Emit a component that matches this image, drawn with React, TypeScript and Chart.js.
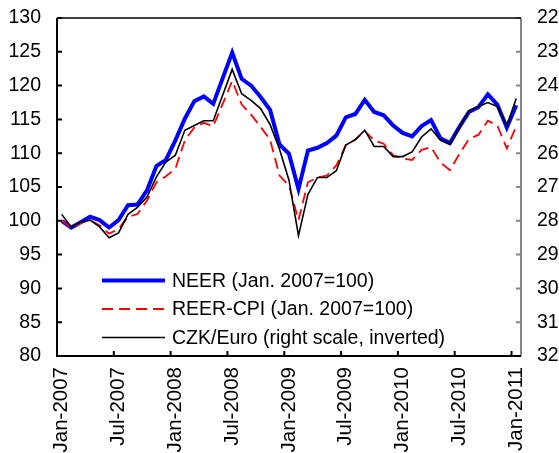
import React, { useEffect, useRef } from "react";
import { Chart, registerables } from "chart.js";

Chart.register(...registerables);

const months = [
  "Jan-2007", "Feb-2007", "Mar-2007", "Apr-2007", "May-2007", "Jun-2007",
  "Jul-2007", "Aug-2007", "Sep-2007", "Oct-2007", "Nov-2007", "Dec-2007",
  "Jan-2008", "Feb-2008", "Mar-2008", "Apr-2008", "May-2008", "Jun-2008",
  "Jul-2008", "Aug-2008", "Sep-2008", "Oct-2008", "Nov-2008", "Dec-2008",
  "Jan-2009", "Feb-2009", "Mar-2009", "Apr-2009", "May-2009", "Jun-2009",
  "Jul-2009", "Aug-2009", "Sep-2009", "Oct-2009", "Nov-2009", "Dec-2009",
  "Jan-2010", "Feb-2010", "Mar-2010", "Apr-2010", "May-2010", "Jun-2010",
  "Jul-2010", "Aug-2010", "Sep-2010", "Oct-2010", "Nov-2010", "Dec-2010",
  "Jan-2011",
];

const xTickLabels = [
  "Jan-2007", "Jul-2007", "Jan-2008", "Jul-2008", "Jan-2009",
  "Jul-2009", "Jan-2010", "Jul-2010", "Jan-2011",
];

const neerValues = [
  100.0, 99.0, 99.8, 100.6, 100.1, 99.0, 100.1, 102.3, 102.4, 104.5, 108.1, 109.0,
  111.9, 115.1, 117.7, 118.4, 117.3, 121.1, 124.9, 121.0, 120.0, 118.3, 116.4, 111.3,
  109.9, 104.7, 110.4, 110.8, 111.5, 112.6, 115.3, 115.8, 117.9, 116.1, 115.6, 114.1,
  113.0, 112.5, 114.0, 114.9, 112.2, 111.5, 113.9, 116.1, 116.8, 118.7, 117.2, 113.8,
  117.1,
];

const reerCpiValues = [
  100.0, 99.0, 99.7, 100.1, 99.3, 98.1, 98.8, 100.6, 101.0, 103.0, 105.7, 106.6,
  107.7, 111.9, 113.8, 114.5, 114.0, 117.3, 120.7, 117.2, 115.7, 113.9, 112.0, 106.7,
  105.2, 100.1, 105.7, 106.4, 106.7, 108.2, 111.2, 112.0, 113.3, 111.9, 111.4, 109.7,
  109.2, 109.0, 110.5, 110.9, 108.6, 107.5, 109.9, 112.1, 112.7, 114.8, 114.1, 110.7,
  114.0,
];

const czkEuroValues = [
  27.81, 28.18, 28.04, 27.98, 28.18, 28.5, 28.36, 27.81, 27.6, 27.3, 26.7, 26.26,
  26.06, 25.32, 25.18, 25.04, 25.04, 24.28, 23.52, 24.24, 24.44, 24.68, 25.15, 25.88,
  26.8, 28.44, 27.22, 26.72, 26.72, 26.52, 25.76, 25.6, 25.32, 25.8, 25.8, 26.1,
  26.1, 25.96, 25.52, 25.28, 25.62, 25.74, 25.24, 24.74, 24.62, 24.5, 24.62, 25.18,
  24.38,
];

const leftAxisRange = [80, 130];
const rightAxisRange = [22, 32];

const seriesLabels = [
  "NEER (Jan. 2007=100)",
  "REER-CPI (Jan. 2007=100)",
  "CZK/Euro (right scale, inverted)",
];

const FONT = "'Liberation Sans', Arial, Helvetica, sans-serif";

const frameTicksPlugin = {
  id: "frameTicks",
  beforeDatasetsDraw(chart: any) {
    const { ctx, chartArea, scales } = chart;
    const { left, right, top, bottom } = chartArea;
    ctx.save();
    ctx.setLineDash([]);
    // right axis (grey)
    ctx.strokeStyle = "#878787";
    ctx.lineWidth = 2;
    ctx.beginPath();
    ctx.moveTo(right, top);
    ctx.lineTo(right, bottom);
    scales.y1.ticks.forEach((t: any) => {
      const y = scales.y1.getPixelForValue(t.value);
      ctx.moveTo(right, y);
      ctx.lineTo(right - 5, y);
    });
    ctx.stroke();
    // top border
    ctx.strokeStyle = "#000";
    ctx.lineWidth = 1.5;
    ctx.beginPath();
    ctx.moveTo(left, top);
    ctx.lineTo(right, top);
    ctx.stroke();
    // left + bottom axes
    ctx.lineWidth = 2;
    ctx.beginPath();
    ctx.moveTo(left, top);
    ctx.lineTo(left, bottom);
    ctx.lineTo(right, bottom);
    scales.y.ticks.forEach((t: any) => {
      const y = scales.y.getPixelForValue(t.value);
      ctx.moveTo(left, y);
      ctx.lineTo(left + 5, y);
    });
    months.forEach((m, i) => {
      if (xTickLabels.includes(m)) {
        const x = scales.x.getPixelForValue(i - 0.5);
        ctx.moveTo(x, bottom);
        ctx.lineTo(x, bottom - 5);
      }
    });
    ctx.stroke();
    ctx.restore();
  },
};

const innerLegendPlugin = {
  id: "innerLegend",
  afterDatasetsDraw(chart: any) {
    const { ctx, chartArea } = chart;
    const { left, bottom } = chartArea;
    ctx.save();
    chart.data.datasets.forEach((ds: any, k: number) => {
      const y = bottom - 75.5 + k * 28.5;
      ctx.strokeStyle = ds.borderColor;
      ctx.lineWidth = ds.borderWidth;
      ctx.setLineDash(ds.borderDash || []);
      ctx.beginPath();
      ctx.moveTo(left + 45, y);
      ctx.lineTo(left + 108, y);
      ctx.stroke();
      ctx.setLineDash([]);
      ctx.fillStyle = "#000";
      ctx.font = `19.5px ${FONT}`;
      ctx.textBaseline = "middle";
      ctx.textAlign = "left";
      ctx.fillText(ds.label, left + 115, y + 1);
    });
    ctx.restore();
  },
};

const noVerticalPadding = (s: any) => {
  s.paddingTop = 0;
  s.paddingBottom = 0;
};

export default function App() {
  const canvasRef = useRef<HTMLCanvasElement | null>(null);

  useEffect(() => {
    if (!canvasRef.current) return;
    const chart = new Chart(canvasRef.current, {
      type: "line",
      data: {
        labels: months,
        datasets: [
          {
            label: seriesLabels[0],
            data: neerValues,
            borderColor: "#0000FF",
            borderWidth: 4,
            pointRadius: 0,
            tension: 0,
            yAxisID: "y",
            order: 3,
          },
          {
            label: seriesLabels[1],
            data: reerCpiValues,
            borderColor: "#FF0000",
            borderWidth: 1.8,
            borderDash: [11, 6],
            pointRadius: 0,
            tension: 0,
            yAxisID: "y",
            order: 2,
          },
          {
            label: seriesLabels[2],
            data: czkEuroValues,
            borderColor: "#000000",
            borderWidth: 1.6,
            pointRadius: 0,
            tension: 0,
            yAxisID: "y1",
            order: 1,
          },
        ],
      },
      options: {
        responsive: false,
        animation: false,
        layout: { padding: { top: 18, left: 0, right: 0, bottom: 0 } },
        plugins: {
          legend: { display: false },
          tooltip: { enabled: false },
          title: { display: false },
        },
        scales: {
          x: {
            type: "category",
            offset: true,
            grid: { display: false, drawTicks: false },
            border: { display: false },
            ticks: {
              autoSkip: false,
              maxRotation: 90,
              minRotation: 90,
              padding: 11,
              color: "#000",
              font: { family: FONT, size: 20.5 },
              callback: (_v: any, idx: number) =>
                xTickLabels.includes(months[idx]) ? months[idx] : "",
            },
            afterFit: (s: any) => {
              s.height = 97;
            },
          },
          y: {
            position: "left",
            min: leftAxisRange[0],
            max: leftAxisRange[1],
            grid: { display: false, drawTicks: false },
            border: { display: false },
            ticks: {
              stepSize: 5,
              padding: 16,
              color: "#000",
              font: { family: FONT, size: 19.5 },
            },
            afterFit: (s: any) => {
              s.width = 57;
              noVerticalPadding(s);
            },
          },
          y1: {
            position: "right",
            reverse: true,
            min: rightAxisRange[0],
            max: rightAxisRange[1],
            grid: { display: false, drawTicks: false },
            border: { display: false },
            ticks: {
              stepSize: 1,
              padding: 16,
              color: "#000",
              font: { family: FONT, size: 19.5 },
            },
            afterFit: (s: any) => {
              s.width = 38;
              noVerticalPadding(s);
            },
          },
        },
      },
      plugins: [frameTicksPlugin, innerLegendPlugin],
    });
    return () => chart.destroy();
  }, []);

  return (
    <div style={{ position: "fixed", left: 0, top: 0, width: 559, height: 453, background: "#fff" }}>
      <canvas ref={canvasRef} width={559} height={453} />
    </div>
  );
}
